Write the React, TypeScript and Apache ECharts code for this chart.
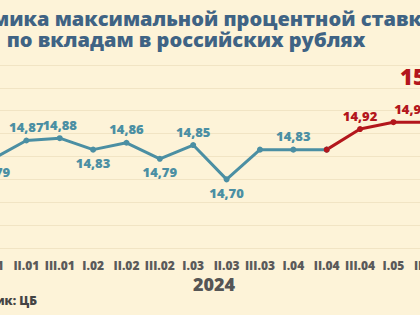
import React, { useEffect, useRef } from 'react';
import * as echarts from 'echarts';

const categories = ['I.01', 'II.01', 'III.01', 'I.02', 'II.02', 'III.02', 'I.03', 'II.03', 'III.03', 'I.04', 'II.04', 'III.04', 'I.05', 'II.05'];
const blueValues = [14.79, 14.87, 14.88, 14.83, 14.86, 14.79, 14.85, 14.7, 14.83, 14.83, 14.83, null, null, null];
const redValues = [null, null, null, null, null, null, null, null, null, null, 14.83, 14.92, 14.95, 14.95];
const blueLabelPos = ['bottom', 'top', 'top', 'bottom', 'top', 'bottom', 'top', 'bottom', '', 'top', '', '', '', ''];
const redLabelPos = ['', '', '', '', '', '', '', '', '', '', '', 'top', 'top', ''];
const titleLines = ['Динамика максимальной процентной ставки', 'по вкладам в российских рублях'];
const yearLabel = '2024';
const sourceText = 'Источник: ЦБ';
const highlightText = '15,00';

const BLUE = '#4b8fa3';
const RED = '#b3161c';
const BG = '#fdf3d8';
const FONT = '"Open Sans", "Noto Sans", sans-serif';
const OFFSET = 60;

const fmt = (v: number) => v.toFixed(2).replace('.', ',');

export default function App() {
  const ref = useRef<HTMLDivElement>(null);
  useEffect(() => {
    if (!ref.current) return;
    const chart = echarts.init(ref.current, null, { renderer: 'svg' });
    const mk = (vals: (number | null)[], pos: string[], color: string, offsets: Record<number, number[]>) =>
      vals.map((v, i) => {
        if (v === null) return null;
        const p = pos[i];
        return {
          value: v,
          label: p
            ? {
                show: true,
                position: p,
                distance: 4,
                offset: offsets[i] || [0, 0],
                formatter: () => fmt(v),
                color,
                fontFamily: FONT,
                fontWeight: 800,
                fontSize: 13,
              }
            : { show: false },
        };
      });
    chart.setOption({
      animation: false,
      backgroundColor: BG,
      grid: { left: 36.3, right: 36.5, top: 65, bottom: 67 },
      xAxis: {
        type: 'category',
        data: categories,
        boundaryGap: true,
        axisLine: { show: false },
        axisTick: { show: false },
        axisLabel: { interval: 0, color: '#5a5a5a', fontFamily: FONT, fontWeight: 800, fontSize: 12, margin: 11, lineHeight: 12 },
      },
      yAxis: {
        type: 'value',
        min: 14.4,
        max: 15.2,
        interval: 0.1,
        axisLabel: { show: false },
        axisLine: { show: false },
        axisTick: { show: false },
        splitLine: { lineStyle: { color: '#f1e4c4', width: 1 } },
      },
      series: [
        {
          type: 'line',
          data: mk(blueValues, blueLabelPos, BLUE, {}),
          lineStyle: { color: BLUE, width: 3 },
          itemStyle: { color: BLUE },
          symbol: 'circle',
          symbolSize: 6,
          connectNulls: false,
        },
        {
          type: 'line',
          data: mk(redValues, redLabelPos, RED, { 12: [18, 0] }),
          lineStyle: { color: RED, width: 3 },
          itemStyle: { color: RED },
          symbol: 'circle',
          symbolSize: 6,
          connectNulls: false,
        },
      ],
      graphic: [
        {
          type: 'text',
          x: 186 + OFFSET,
          y: 28.5,
          style: {
            text: titleLines.join('\n'),
            fill: '#3f6384',
            font: `800 20px ${FONT}`,
            lineHeight: 21,
            textAlign: 'center',
            textVerticalAlign: 'middle',
          },
        },
        {
          type: 'text',
          x: 214 + OFFSET,
          y: 283.5,
          style: { text: yearLabel, fill: '#555555', font: `800 18px ${FONT}`, lineHeight: 17, textAlign: 'center', textVerticalAlign: 'middle' },
        },
        {
          type: 'text',
          x: 37 + OFFSET,
          y: 300,
          style: { text: sourceText, fill: '#444444', font: `800 12px ${FONT}`, textAlign: 'right', textVerticalAlign: 'middle' },
        },
        {
          type: 'text',
          x: 400 + OFFSET,
          y: 76,
          style: { text: highlightText, fill: RED, font: `800 22px ${FONT}`, textAlign: 'left', textVerticalAlign: 'middle' },
        },
      ],
    });
    return () => chart.dispose();
  }, []);
  return (
    <div style={{ position: 'fixed', left: 0, top: 0, width: 420, height: 315, overflow: 'hidden', background: BG }}>
      <div ref={ref} style={{ position: 'absolute', left: -OFFSET, top: 0, width: 540, height: 315 }} />
    </div>
  );
}
